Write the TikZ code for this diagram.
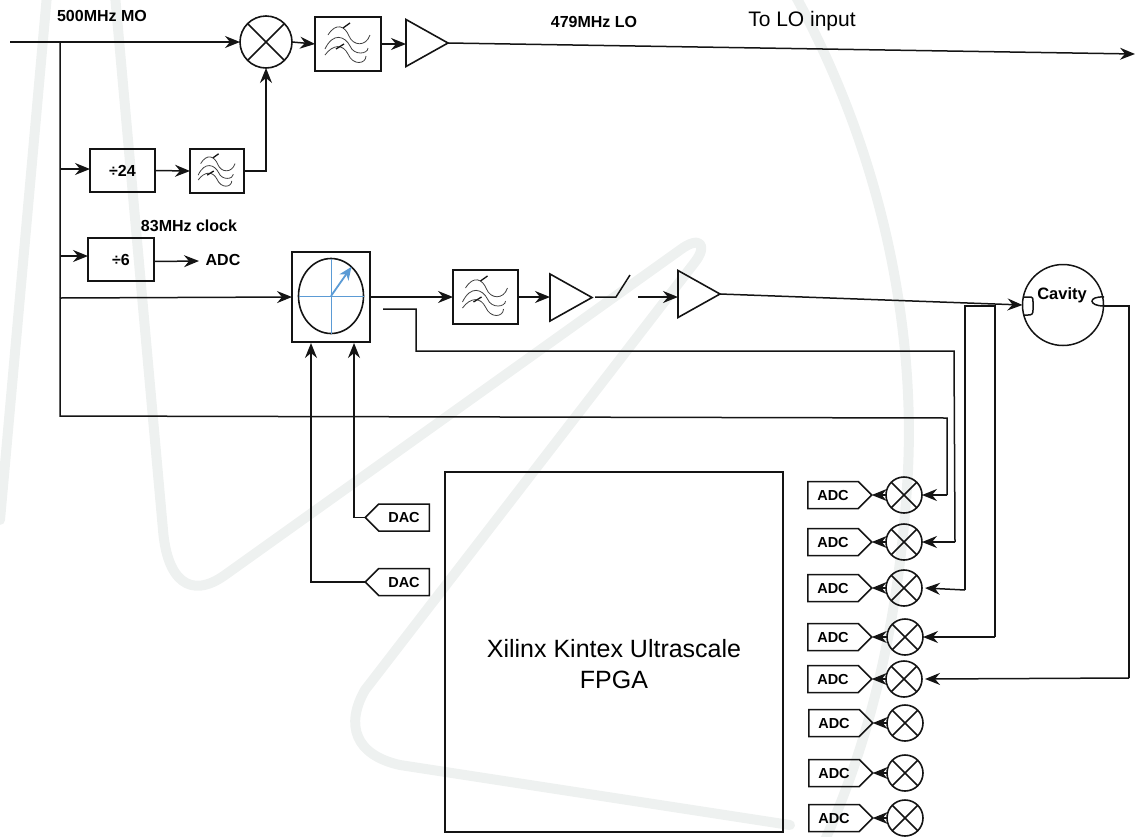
\documentclass[tikz,border=0pt]{standalone}
\usepackage{fontspec}
\setmainfont{Liberation Sans}
\usetikzlibrary{arrows.meta,shapes.geometric,shapes.symbols,calc}
\definecolor{wm}{HTML}{EEF1F0}
\definecolor{vec}{HTML}{5B9BD5}
\definecolor{ink}{HTML}{141414}
\tikzset{
  x=1pt,y=-1pt,
  line join=miter,
  wire/.style={draw=ink,line width=1.5pt},
  arr/.style={wire,-{Stealth[length=15pt,width=12pt,inset=5pt]}},
  box/.style={draw=ink,line width=1.6pt,rectangle,inner sep=0pt,outer sep=0pt},
  thickbox/.style={box,line width=2.2pt,font=\bfseries\fontsize{16}{18}\selectfont},
  mixer/.style={draw=ink,line width=1.6pt,circle,inner sep=0pt,outer sep=0pt,minimum size=#1,
    path picture={\draw[ink,line width=1.5pt] (path picture bounding box.north west)--(path picture bounding box.south east)
      (path picture bounding box.north east)--(path picture bounding box.south west);}},
  amp/.style={draw=ink,line width=1.6pt,isosceles triangle,isosceles triangle stretches,shape border rotate=0,
    inner sep=0pt,outer sep=0pt,minimum width=47pt,minimum height=42pt,anchor=apex},
  conv/.style={draw=ink,line width=1.5pt,signal,signal to=#1,inner sep=0pt,outer sep=0pt,minimum height=27pt,minimum width=64pt,
    signal pointer angle=90,font=\bfseries\fontsize{14.5}{16}\selectfont},
  lbl/.style={font=\bfseries\fontsize{16}{18}\selectfont,inner sep=0pt},
  wave/.style={draw=black!75,line width=.8pt},
  tick/.style={draw=ink,line width=1.3pt},
}
\newcommand{\filtericon}[3]{%
  \begin{scope}[shift={(#1,#2)},scale=#3]
    \draw[wave] (-20,-9) .. controls (-12,-22) and (-3,-18) .. (1,-8) .. controls (5,2) and (18,3) .. (22,-9);
    \draw[wave] (-23,5) .. controls (-15,-12) and (-3,-8) .. (2,2) .. controls (6,12) and (20,10) .. (20,4);
    \draw[wave] (-23,11) .. controls (-15,0) and (-5,0) .. (0,10) .. controls (5,22) and (18,20) .. (18,12);
    \draw[tick] (-5,-16)--(2,-21) (-12,5)--(-4,0);
  \end{scope}}
\begin{document}
\begin{tikzpicture}
\useasboundingbox (0,0) rectangle (1135,836);
% watermark
\begin{scope}[draw=wm,line width=10pt,line cap=round,line join=round]
\clip (0,0) rectangle (1135,836);
\draw (47,-5) -- (0,520);
\draw (115,-5) -- (163,530) .. controls (167,580) and (190,600) .. (225,575) -- (680,250)
  .. controls (700,235) and (708,245) .. (695,262) -- (365,690)
  .. controls (345,725) and (355,755) .. (400,765) -- (790,825);
\draw (795,-5) .. controls (880,150) and (915,320) .. (908,470) .. controls (900,620) and (870,740) .. (825,840);
\end{scope}

% nodes
\node[mixer=52pt] (mix) at (266,42) {};
\node[box,minimum width=66pt,minimum height=54pt] (f1) at (348,44) {};
\filtericon{348}{44}{1}
\node[amp] (a1) at (448,43) {};
\node[thickbox,minimum width=65pt,minimum height=43pt] (d24) at (122.5,170.5) {÷24};
\node[box,minimum width=54pt,minimum height=44pt] (f2) at (217,171) {};
\filtericon{217}{171}{.82}
\node[thickbox,minimum width=66pt,minimum height=43pt] (d6) at (121,259.5) {÷6};
\node[lbl] (adclk) at (223,260) {ADC};
\node[lbl] (clk) at (189,226) {83MHz clock};
\node[lbl] (mo) at (102,16) {500MHz MO};
\node[lbl] (lo) at (594,22) {479MHz LO};
\node[font=\fontsize{21}{24}\selectfont,inner sep=0pt] (toin) at (802,21) {To LO input};

\node[box,minimum width=78pt,minimum height=90pt] (vm) at (331,297) {};
\node[draw=ink,line width=1.6pt,ellipse,inner sep=0pt,outer sep=0pt,minimum width=65pt,minimum height=75pt] (vme) at (331,296) {};
\draw[vec,line width=1pt] (vme.west)--(vme.east) (vme.north)--(vme.south);
\draw[vec,line width=1.8pt,-{Stealth[length=13pt,width=11pt,inset=4pt]}] (vme.center)--(vme.55);

\node[box,minimum width=65pt,minimum height=54pt] (f3) at (485.5,297) {};
\filtericon{485.5}{297}{1}
\node[amp] (a2) at (592,297.5) {};
\node[amp] (a3) at (720,294) {};
\coordinate (swa) at (595,297);
\coordinate (swb) at (616,297);
\coordinate (swc) at (630,275);
\coordinate (swd) at (638,297);

\node[draw=ink,line width=1.5pt,circle,inner sep=0pt,outer sep=0pt,minimum size=81pt] (cav) at (1063,305) {};
\node[font=\bfseries\fontsize{16.5}{18}\selectfont,inner sep=0pt] (cavt) at (1062,295) {Cavity};

\node[draw=ink,line width=1.6pt,rectangle,inner sep=0pt,outer sep=0pt,minimum width=338pt,minimum height=360pt,
  align=center,font=\fontsize{25}{31}\selectfont] (fpga) at (614,652) {\raisebox{0pt}{}\\[12pt]Xilinx Kintex Ultrascale\\FPGA};

\node[conv=west] (dac1) at (404,517.5) {DAC};
\node[conv=west] (dac2) at (404,582) {DAC};

\foreach \i/\xa/\xm/\y in {1/833/904/495,2/833/904/542,3/833/904/588,4/833/905/637,5/833/904/679,6/834/905/723,7/834/905/773,8/834/905/818}{
  \node[mixer=36pt] (m\i) at (\xm,\y) {};
  \node[conv=east] (adc\i) at (\xa,\y) {ADC};
  \draw[arr] (m\i) -- (adc\i.east);
}

% connectors
\coordinate (in) at (10,42);
\coordinate (n1) at (60,42);
\coordinate (n2) at (60,169);
\coordinate (n3) at (60,256);
\coordinate (n4) at (60,298);
\coordinate (n5) at (60,416);
\coordinate (end) at (1135,54);
\draw[arr] (in) -- (mix.west);
\draw[wire] (n1) -- (n5) -- (947,418) -- (947,495) coordinate (c1);
\draw[arr] (c1) -- (m1.east);
\draw[arr] (mix.east) -- (f1.west);
\draw[arr] (f1.east) -- (a1.west |- f1.east);
\draw[arr] (a1.apex) -- (end);
\draw[arr] (n2) -- (d24.west |- n2);
\draw[arr] (d24.east) -- (f2.west);
\draw[arr] (f2.east) -| (mix.south);
\draw[arr] (n3) -- (d6.west |- n3);
\draw[arr] ($(d6.east)+(0,2)$) -- (199,261);
\draw[arr] (n4) -- (vm.west);
\draw[arr] (vm.east) -- (f3.west);
\draw[arr] (f3.east) -- (a2.west |- f3.east);
\draw[wire] (swa) -- (swb) -- (swc);
\draw[arr] (swd) -- (a3.west |- swd);
\draw[arr] (a3.apex) -- (cav.west);

\draw[wire] (383,309) -- (416,309) -- (416,351) -- (954,351) -- (955,542) coordinate (c2);
\draw[arr] (c2) -- (m2.east);
\draw[wire] (1023,297) -- (1029,297) .. controls (1033,297) and (1033,298) .. (1033,302) -- (1033,310)
  .. controls (1033,314) and (1032,315) .. (1028,315) -- (1023,315);
\draw[wire] (1104,297) .. controls (1088,296) and (1088,306) .. (1104,306);
\draw[wire] (965,590) -- (965,306) -- (995,306) -- (995,637) coordinate (c4);
\draw[arr] (965,590) -- ($(m3.east)+(3,0)$);
\draw[arr] (c4) -- (m4.east);
\draw[wire] (1104,306) -- (1129,306) -- (1129,678) coordinate (c5);
\draw[arr] (c5) -- ($(m5.east)+(3,0)$);

\draw[arr] (dac1.west) -- (354,517.5) -- (354,343);
\draw[arr] (dac2.west) -- (311,582) -- (311,343);
\end{tikzpicture}
\end{document}
